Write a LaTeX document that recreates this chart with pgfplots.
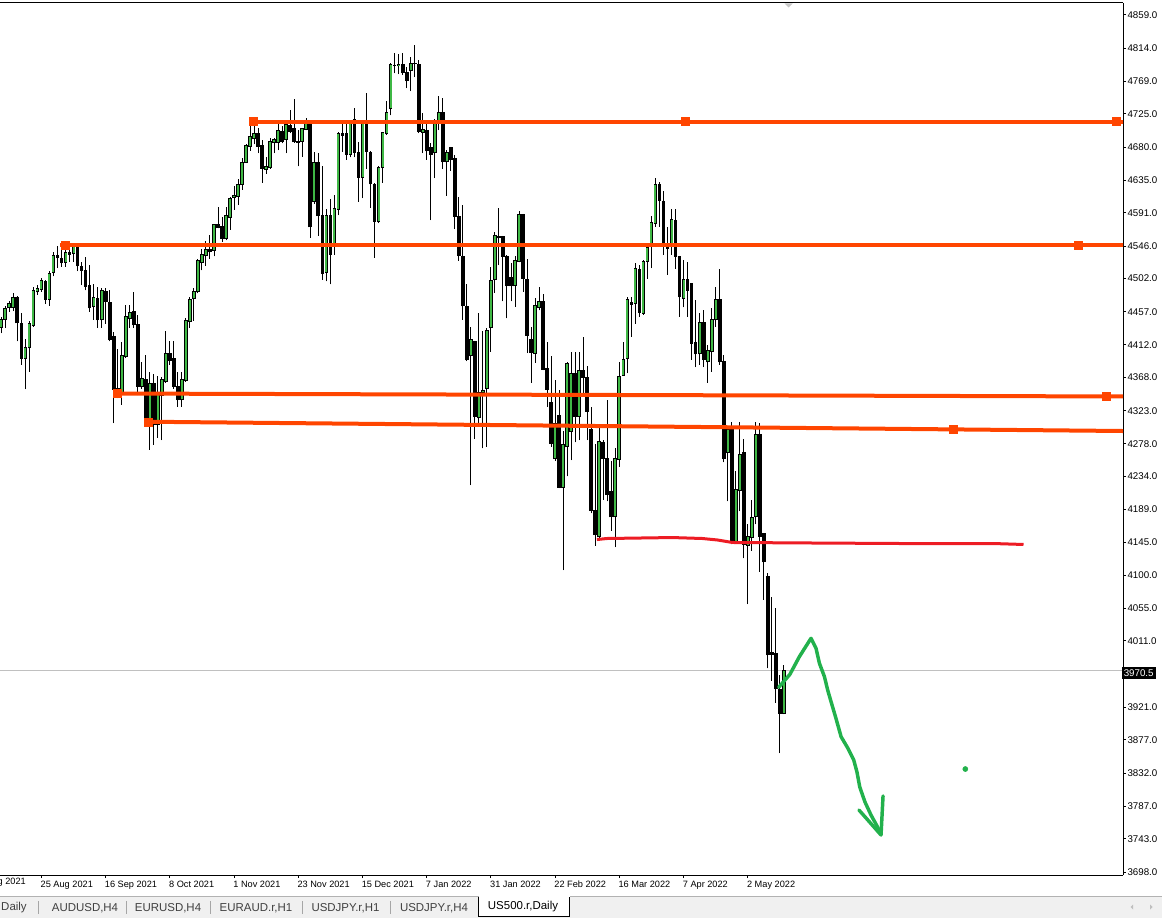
\documentclass[border=0pt]{standalone}
\usepackage{pgfplots}
\pgfplotsset{compat=1.18}
\usepackage{pgfplotstable}
\usepackage{fontspec}
\setmainfont{Liberation Sans}

\definecolor{bull}{HTML}{3FB845}
\definecolor{lvl}{HTML}{FF4500}
\definecolor{zone}{HTML}{ED1C24}
\definecolor{pen}{HTML}{22B14C}
\definecolor{tabbg}{HTML}{F0F0F0}

% US500.r daily bars, index 0 = 11 Aug 2021
\pgfplotstableread{
k O H L C
0 4436 4450 4428 4447
1 4447 4465 4435 4462
2 4462 4471 4457 4468
3 4463 4482 4458 4477
4 4477 4478 4417 4442
5 4441 4455 4385 4394
6 4393 4420 4352 4408
7 4408 4444 4376 4441
8 4438 4491 4437 4486
9 4484 4493 4480 4489
10 4487 4503 4484 4499
11 4498 4500 4468 4474
12 4474 4512 4465 4509
13 4510 4538 4505 4533
14 4533 4546 4516 4530
15 4529 4543 4518 4523
16 4524 4546 4518 4538
17 4538 4551 4525 4535
18 4536 4550 4525 4547
19 4547 4548 4512 4519
20 4519 4525 4493 4513
21 4513 4531 4486 4491
22 4492 4520 4457 4462
23 4464 4494 4446 4477
24 4475 4491 4435 4446
25 4446 4489 4435 4486
26 4485 4489 4441 4471
27 4470 4486 4417 4419
28 4424 4429 4306 4352
29 4353 4406 4340 4345
30 4346 4416 4331 4398
31 4396 4466 4394 4451
32 4448 4466 4435 4456
33 4458 4484 4435 4439
34 4440 4453 4344 4356
35 4355 4389 4353 4366
36 4365 4398 4304 4307
37 4308 4376 4270 4360
38 4360 4372 4277 4304
39 4304 4370 4286 4347
40 4344 4369 4283 4365
41 4362 4431 4361 4400
42 4400 4418 4385 4391
43 4394 4418 4353 4356
44 4356 4376 4328 4338
45 4338 4376 4328 4365
46 4364 4448 4362 4445
47 4444 4477 4435 4474
48 4475 4489 4445 4484
49 4484 4528 4482 4526
50 4523 4542 4513 4535
51 4533 4553 4519 4542
52 4542 4561 4529 4538
53 4540 4576 4532 4575
54 4575 4599 4570 4571
55 4573 4586 4552 4556
56 4556 4599 4554 4587
57 4585 4613 4568 4611
58 4612 4627 4595 4615
59 4613 4637 4602 4630
60 4629 4665 4622 4659
61 4659 4684 4659 4682
62 4681 4719 4675 4695
63 4691 4714 4684 4699
64 4699 4706 4672 4681
65 4682 4690 4632 4651
66 4650 4667 4644 4654
67 4653 4692 4651 4688
68 4686 4692 4672 4690
69 4686 4711 4676 4702
70 4701 4708 4685 4688
71 4690 4712 4672 4711
72 4710 4730 4699 4701
73 4705 4745 4686 4687
74 4688 4703 4654 4686
75 4688 4706 4667 4705
76 4704 4720 4703 4712
77 4711 4712 4557 4572
78 4606 4673 4603 4659
79 4659 4672 4560 4587
80 4588 4654 4500 4509
81 4510 4596 4498 4588
82 4587 4610 4494 4535
83 4546 4615 4534 4597
84 4596 4700 4588 4699
85 4699 4714 4674 4696
86 4699 4711 4663 4670
87 4670 4714 4666 4712
88 4717 4733 4666 4673
89 4673 4687 4606 4639
90 4639 4714 4611 4713
91 4713 4753 4651 4674
92 4673 4675 4598 4630
93 4629 4631 4530 4579
94 4579 4654 4577 4653
95 4652 4701 4632 4700
96 4698 4743 4697 4727
97 4732 4794 4723 4792
98 4790 4808 4780 4791
99 4790 4806 4779 4792
100 4792 4808 4778 4781
101 4781 4788 4760 4770
102 4784 4802 4756 4794
103 4794 4818 4775 4793
104 4792 4798 4699 4701
105 4700 4726 4672 4704
106 4703 4715 4663 4675
107 4680 4685 4581 4670
108 4672 4718 4638 4714
109 4714 4749 4703 4727
110 4727 4746 4651 4660
111 4660 4676 4614 4673
112 4680 4680 4648 4663
113 4665 4670 4569 4586
114 4586 4613 4526 4533
115 4532 4602 4446 4465
116 4464 4494 4390 4392
117 4397 4436 4222 4419
118 4417 4418 4285 4315
119 4313 4455 4303 4348
120 4347 4431 4272 4351
121 4353 4435 4274 4431
122 4435 4517 4403 4500
123 4501 4565 4483 4561
124 4559 4597 4520 4557
125 4559 4559 4471 4532
126 4532 4534 4448 4492
127 4503 4523 4471 4492
128 4492 4533 4464 4526
129 4525 4594 4524 4589
130 4589 4590 4484 4502
131 4501 4528 4401 4425
132 4419 4437 4361 4402
133 4401 4475 4388 4465
134 4463 4491 4459 4471
135 4471 4481 4378 4379
136 4380 4416 4328 4352
137 4334 4397 4274 4279
138 4258 4365 4255 4306
139 4316 4351 4218 4219
140 4219 4296 4107 4277
141 4274 4389 4234 4387
142 4295 4402 4256 4374
143 4374 4402 4280 4315
144 4315 4403 4283 4378
145 4377 4423 4344 4368
146 4368 4383 4283 4322
147 4298 4328 4184 4188
148 4188 4278 4140 4155
149 4152 4300 4150 4281
150 4280 4283 4202 4258
151 4258 4337 4200 4209
152 4213 4255 4160 4179
153 4179 4272 4138 4258
154 4257 4389 4247 4370
155 4371 4416 4370 4393
156 4393 4477 4374 4473
157 4470 4477 4423 4467
158 4468 4523 4441 4515
159 4514 4520 4450 4456
160 4455 4527 4453 4525
161 4525 4547 4502 4544
162 4545 4587 4516 4578
163 4577 4638 4572 4629
164 4629 4633 4572 4608
165 4607 4620 4534 4547
166 4547 4572 4507 4542
167 4547 4596 4534 4582
168 4581 4596 4515 4532
169 4532 4533 4450 4477
170 4475 4527 4463 4501
171 4501 4525 4450 4486
172 4495 4496 4392 4414
173 4415 4473 4382 4400
174 4400 4455 4385 4443
175 4443 4459 4382 4392
176 4389 4412 4361 4405
177 4403 4462 4376 4446
178 4446 4490 4437 4474
179 4473 4515 4385 4389
180 4390 4398 4253 4258
181 4266 4299 4200 4298
182 4298 4307 4142 4146
183 4146 4241 4145 4216
184 4215 4308 4187 4264
185 4267 4284 4123 4142
186 4140 4169 4061 4153
187 4151 4202 4133 4179
188 4179 4308 4169 4291
189 4291 4306 4105 4153
190 4156 4157 4067 4118
191 4098 4103 3974 3992
192 3996 4071 3957 3993
193 3994 4055 3927 3946
194 3946 3965 3859 3913
195 3913 3978 3912 3970.5
}\ohlc

\begin{document}
\begin{tikzpicture}
\begin{axis}[
  at={(0pt,32.25pt)}, anchor=south west,
  scale only axis, width=839.625pt, height=654pt,
  xmin=-0.325, xmax=279.55, ymin=3693.94, ymax=4875.26,
  axis x line*=box, axis y line*=right,
  axis line style={black, line width=0.75pt},
  xtick pos=lower,
  tick align=outside, major tick length=2.25pt,
  tick style={black, line width=0.75pt},
  xtick={10,26,...,186},
  xticklabels={25 Aug 2021,16 Sep 2021,8 Oct 2021,1 Nov 2021,23 Nov 2021,15 Dec 2021,7 Jan 2022,31 Jan 2022,22 Feb 2022,16 Mar 2022,7 Apr 2022,2 May 2022},
  x tick label style={font=\fontsize{6.9}{8}\selectfont, anchor=north west, inner sep=0pt, xshift=-0.75pt, yshift=-2pt},
  ytick={3698,3743,3787,3832,3877,3921,4011,4055,4100,4145,4189,4234,4278,4323,4368,4412,4457,4502,4546,4591,4635,4680,4725,4769,4814,4859},
  y tick label style={font=\fontsize{7.3}{8}\selectfont, anchor=west, inner sep=0pt, xshift=0.75pt,
    /pgf/number format/.cd, fixed, fixed zerofill, precision=1, 1000 sep={}, assume math mode=true},
  error bars/error mark=none,
  candle/.style={only marks, mark=none, mark size=0pt, mark options={draw=none, fill=none}},
]
% current price line
\addplot [draw={rgb,255:red,192;green,192;blue,192}, line width=0.75pt] coordinates {(-1,3970.5) (280,3970.5)};

% wicks
\addplot [candle, error bars/.cd, y dir=plus, y explicit,
  error bar style={line width=0.75pt, draw=black}]
  table [x=k, y=L, y error expr=\thisrow{H}-\thisrow{L}] {\ohlc};
% bodies (outline)
\addplot [candle, error bars/.cd, y dir=plus, y explicit,
  error bar style={line width=2.8pt, draw=black}]
  table [x=k, y expr={min(\thisrow{O},\thisrow{C})-0.6}, y error expr={abs(\thisrow{C}-\thisrow{O})+1.2}] {\ohlc};
% bullish fill
\addplot [candle, error bars/.cd, y dir=plus, y explicit,
  error bar style={line width=1.5pt, draw=bull}]
  table [x=k, y expr={\thisrow{O}+0.75}, y error expr={ifthenelse(\thisrow{C}>\thisrow{O}+1.5, \thisrow{C}-\thisrow{O}-1.5, 0)}] {\ohlc};

% horizontal levels
\addplot [lvl, line width=3pt] coordinates {(62.2,4714.7) (280,4714.7)};
\addplot [lvl, line width=3pt] coordinates {(14.7,4547.4) (280,4547.4)};
\addplot [lvl, line width=3pt] coordinates {(27.9,4346.2) (280,4342.2)};
\addplot [lvl, line width=3pt] coordinates {(35.9,4308.0) (280,4295.4)};
\addplot [lvl, only marks, mark=square*, mark size=3pt] coordinates {
  (62.9,4714.7) (170.4,4714.7) (277.9,4714.7)
  (15.9,4547.4) (268.4,4547.4)
  (28.9,4346.1) (275.2,4342.3)
  (36.7,4307.8) (237.2,4297.7)};

% red zone line
\addplot [zone, line width=2.25pt] coordinates {
  (148.4,4148.4) (150.9,4149.8) (167.2,4151.1) (174.7,4149.8) (178.4,4147.8)
  (182.2,4144.4) (202.2,4143.7) (224.7,4143.0) (247.2,4143.0) (254.7,4141.7)};

% hand-drawn projection
\addplot [pen, line width=2.6pt, line join=round, line cap=round] coordinates {
  (193.7,3948.2) (196.5,3965.8) (198.85,3989.7) (201.75,4014.6) (203.0,4001.1)
  (203.85,3980.7) (205.1,3962.6) (205.9,3944.6) (206.75,3928.7) (207.85,3908.4)
  (209.25,3881.3) (210.9,3866.0) (212.4,3849.7) (213.2,3833.5) (213.9,3813.1)
  (215.2,3792.8) (216.7,3775.2) (218.2,3760.3) (219.2,3749.5)};
\addplot [pen, line width=2.6pt, line join=round, line cap=round] coordinates {
  (213.7,3782.0) (219.2,3748.1) (219.7,3801.0)};
\addplot [pen, only marks, mark=*, mark size=1.9pt] coordinates {(240.2,3837.5)};
\end{axis}

% window chrome, in screen pixels
\begin{scope}[shift={(0pt,688.5pt)}, x=0.75pt, y=-0.75pt]
  \fill[gray!45] (784.5,3.5) -- (792.5,3.5) -- (788.5,7.5) -- cycle;
  \node[fill=black, text=white, inner xsep=1.5pt, inner ysep=0pt, minimum height=9pt,
        anchor=west, font=\fontsize{7.3}{8}\selectfont] at (1121.5,673) {3970.5};
  \node[anchor=north west, inner sep=0pt, font=\fontsize{6.9}{8}\selectfont] at (-21.5,878) {3 Aug 2021};
  % tab strip
  \fill[tabbg] (0,897) rectangle (1162,918);
  \draw[gray!60, line width=0.75pt] (0,896.5) -- (1162,896.5);
  \fill[white] (478.5,896) rectangle (569.5,916);
  \draw[black, line width=0.75pt] (478.5,896.5) -- (478.5,916.5) -- (569.5,916.5) -- (569.5,896.5);
  \begin{scope}[font=\fontsize{8.6}{10}\selectfont, text=black!75]
    \node[anchor=east, inner sep=0pt] at (27,908) {Daily};
    \node at (85,908) {AUDUSD,H4};
    \node at (168,908) {EURUSD,H4};
    \node at (256,908) {EURAUD.r,H1};
    \node at (345.5,908) {USDJPY.r,H1};
    \node at (434,908) {USDJPY.r,H4};
    \node[text=black] at (523,907) {US500.r,Daily};
  \end{scope}
  \foreach \sx in {38,126,210,302,390}
    \draw[gray!70, line width=0.75pt] (\sx,901) -- (\sx,914);
  \fill[gray!50] (1133,904.5) -- (1133,909.5) -- (1130.5,907) -- cycle;
  \fill[gray!50] (1150,904.5) -- (1150,909.5) -- (1152.5,907) -- cycle;
\end{scope}

\pgfresetboundingbox
\path[use as bounding box] (0pt,0pt) rectangle (871.5pt,688.5pt);
\end{tikzpicture}
\end{document}
